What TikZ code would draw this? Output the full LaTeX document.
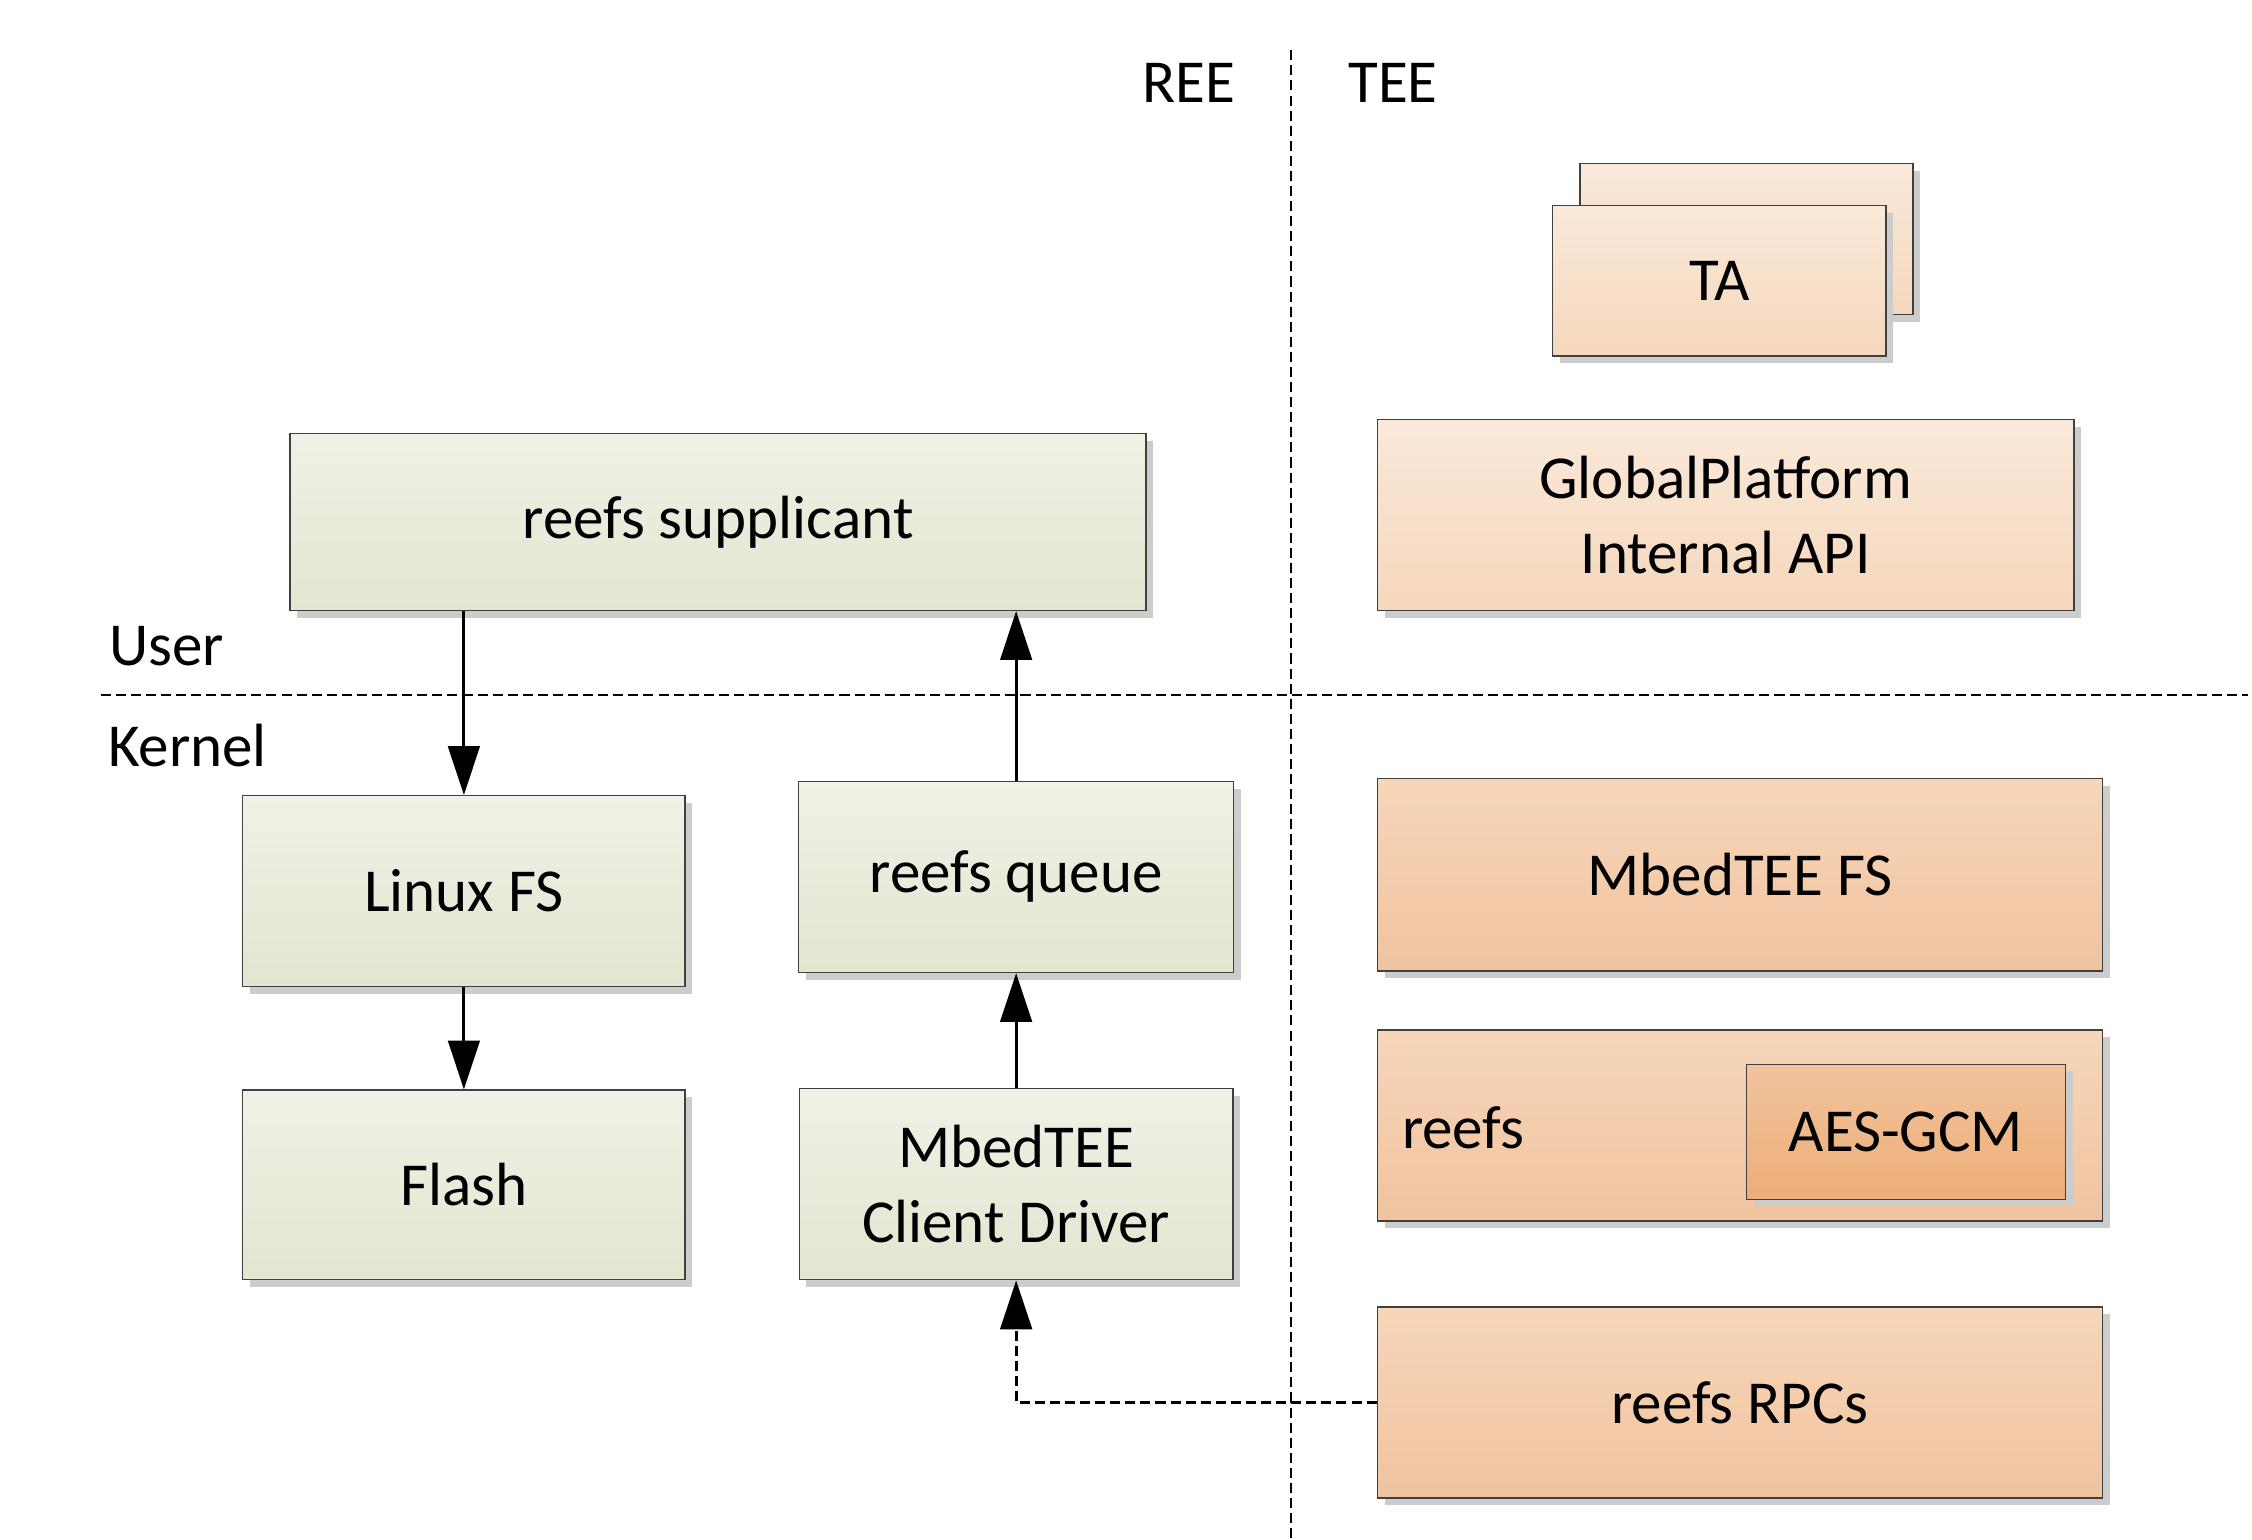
\documentclass[tikz,border=0pt]{standalone}
\usepackage{fontspec}
\setmainfont{Carlito}
\usetikzlibrary{arrows.meta,shadows}
\definecolor{gtop}{HTML}{EFF2E6}
\definecolor{gbot}{HTML}{E1E6D0}
\definecolor{otop}{HTML}{FAE9DA}
\definecolor{obot}{HTML}{F5D7BC}
\definecolor{mtop}{HTML}{F6D6BA}
\definecolor{mbot}{HTML}{F1C39F}
\definecolor{atop}{HTML}{F2C39D}
\definecolor{abot}{HTML}{EDAE78}
\definecolor{bord}{HTML}{404040}
\tikzset{
  base/.style={draw=bord, line width=1pt, inner sep=0pt, align=center,
    font=\fontsize{42.5}{52}\selectfont,
    general shadow={fill=black!20, shadow xshift=5pt, shadow yshift=-5pt}},
  gbox/.style={base, top color=gtop, bottom color=gbot},
  obox/.style={base, top color=otop, bottom color=obot},
  mbox/.style={base, top color=mtop, bottom color=mbot},
  abox/.style={base, top color=atop, bottom color=abot},
  lbl/.style={inner sep=0pt, font=\fontsize{42.5}{52}\selectfont},
  sep/.style={line width=1.2pt, dash pattern=on 7pt off 3.5pt},
  arr/.style={line width=2pt, -{Triangle[length=34pt,width=22pt]}},
  darr/.style={arr, dash pattern=on 7pt off 3.5pt},
}
\begin{document}
\begin{tikzpicture}[x=1pt,y=-1pt]
\useasboundingbox (0,0) rectangle (1568,1072);
% separators
\coordinate (vtop) at (899,35);
\coordinate (vbot) at (899,1072);
\coordinate (hl) at (70,484);
\coordinate (hr) at (1565,484);
\draw[sep] (vtop) -- (vbot);
\draw[sep] (hl) -- (hr);
% labels
\node[lbl] (ree) at (828,58) {REE};
\node[lbl] (tee) at (970,58) {TEE};
\node[lbl, anchor=west] (user) at (76,450) {User};
\node[lbl, anchor=west] (kernel) at (75,519) {Kernel};
% REE boxes
\node[gbox, minimum width=596pt, minimum height=123pt] (sup) at (500,363.5) {reefs supplicant};
\node[gbox, minimum width=308pt, minimum height=133pt] (lfs) at (323,620.5) {Linux FS};
\node[gbox, minimum width=308pt, minimum height=132pt] (flash) at (323,825) {Flash};
\node[gbox, minimum width=303pt, minimum height=133pt] (queue) at (707.5,610.5) {reefs queue};
\node[gbox, minimum width=302pt, minimum height=133pt] (drv) at (707.5,824.5) {MbedTEE\\Client Driver};
% TEE boxes
\node[obox, minimum width=232pt, minimum height=105pt] (taback) at (1216,166.5) {};
\node[obox, minimum width=232pt, minimum height=105pt] (ta) at (1197,195.5) {TA};
\node[obox, minimum width=485pt, minimum height=133pt] (gp) at (1201.5,358.5) {GlobalPlatform\\Internal API};
\node[mbox, minimum width=505pt, minimum height=134pt] (mfs) at (1211.5,609) {MbedTEE FS};
\node[mbox, minimum width=505pt, minimum height=133pt] (reefs) at (1211.5,783.5) {};
\node[lbl, anchor=west] (reefslbl) at (976,785) {reefs};
\node[abox, minimum width=222pt, minimum height=94pt] (aes) at (1327,788) {AES-GCM};
\node[mbox, minimum width=505pt, minimum height=133pt] (rpc) at (1211.5,976.5) {reefs RPCs};
% connectors
\draw[arr] (lfs.north |- sup.south) -- (lfs.north);
\draw[arr] (lfs.south) -- (flash.north);
\draw[arr] (queue.north) -- (queue.north |- sup.south);
\draw[arr] (drv.north) -- (queue.south);
\draw[darr] (rpc.west) -| (drv.south);
\end{tikzpicture}
\end{document}
